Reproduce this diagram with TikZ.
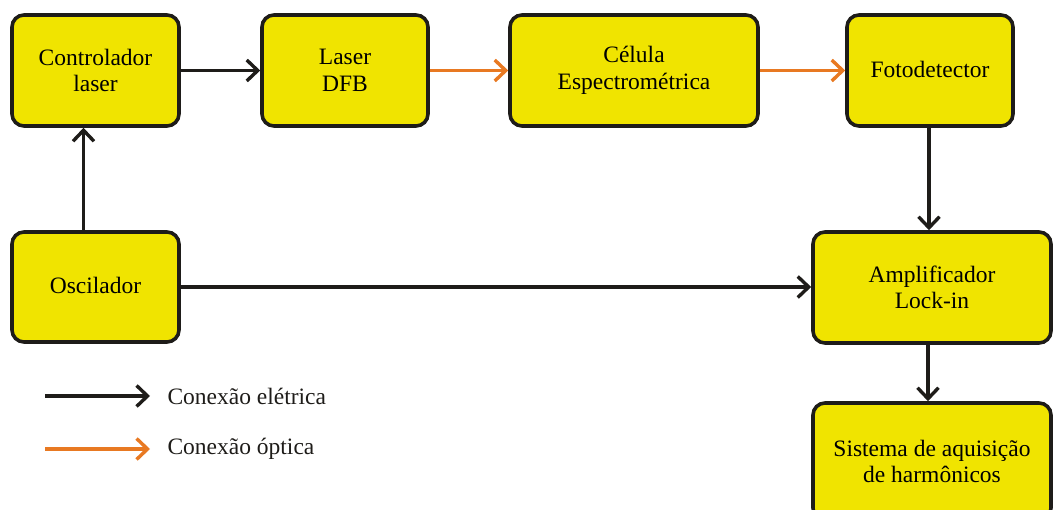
\documentclass[tikz,border=0pt]{standalone}
\usepackage{fontspec}
\setmainfont{Liberation Serif}
\usetikzlibrary{arrows.meta}
\definecolor{boxyellow}{RGB}{240,228,0}
\definecolor{optorange}{RGB}{232,121,34}
\definecolor{edge}{RGB}{30,28,25}
\begin{document}
\begin{tikzpicture}[x=1pt,y=-1pt,
  blk/.style={draw=edge, line width=3.6pt, fill=boxyellow, rounded corners=12pt,
    align=center, font=\fontsize{23.5}{26.5}\selectfont, inner sep=0pt},
  elec/.style={draw=edge, line width=3.4pt, -{Straight Barb[length=11pt,width=21pt]}},
  opt/.style={draw=optorange, line width=3.4pt, -{Straight Barb[length=11pt,width=21pt]}},
  lbl/.style={anchor=west, font=\fontsize{23.5}{26.5}\selectfont, text=edge}]
\useasboundingbox (0,0) rectangle (1053,510);
\clip (0,0) rectangle (1053,510);
\node[blk, minimum width=167pt, minimum height=111pt] (ctrl) at (95.5,70.5) {Controlador\\laser};
\node[blk, minimum width=166pt, minimum height=111pt] (dfb) at (345,70.5) {Laser\\DFB};
\node[blk, minimum width=248pt, minimum height=111pt] (cel) at (634,70.5) {Célula\\Espectrométrica};
\node[blk, minimum width=166pt, minimum height=111pt] (fot) at (930,70.5) {\raisebox{3pt}{Fotodetector}};
\node[blk, minimum width=167pt, minimum height=110pt] (osc) at (95.5,287) {\raisebox{3pt}{Oscilador}};
\node[blk, minimum width=238pt, minimum height=111pt] (amp) at (932,287.5) {Amplificador\\Lock-in};
\node[blk, minimum width=238pt, minimum height=117pt] (sis) at (932,461.5) {Sistema de aquisição\\de harmônicos};
\draw[elec] (ctrl.east) -- (ctrl.east -| dfb.west);
\draw[opt] (dfb.east) -- (dfb.east -| cel.west);
\draw[opt] (cel.east) -- (cel.east -| fot.west);
\draw[elec] (fot.south -| 929,0) -- (amp.north -| 929,0);
\draw[elec] (osc.east) -- (osc.east -| amp.west);
\draw[elec] ([xshift=-12pt]osc.north) -- ([xshift=-12pt]osc.north |- ctrl.south);
\draw[elec] (amp.south -| 928,0) -- (sis.north -| 928,0);
\coordinate (e1) at (45,396);
\coordinate (e2) at (150,396);
\coordinate (o1) at (45,449);
\coordinate (o2) at (150,449);
\draw[elec] (e1) -- (e2);
\draw[opt] (o1) -- (o2);
\node[lbl] (le) at (164,396) {Conexão elétrica};
\node[lbl] (lo) at (164,449) {Conexão óptica};
\end{tikzpicture}
\end{document}
